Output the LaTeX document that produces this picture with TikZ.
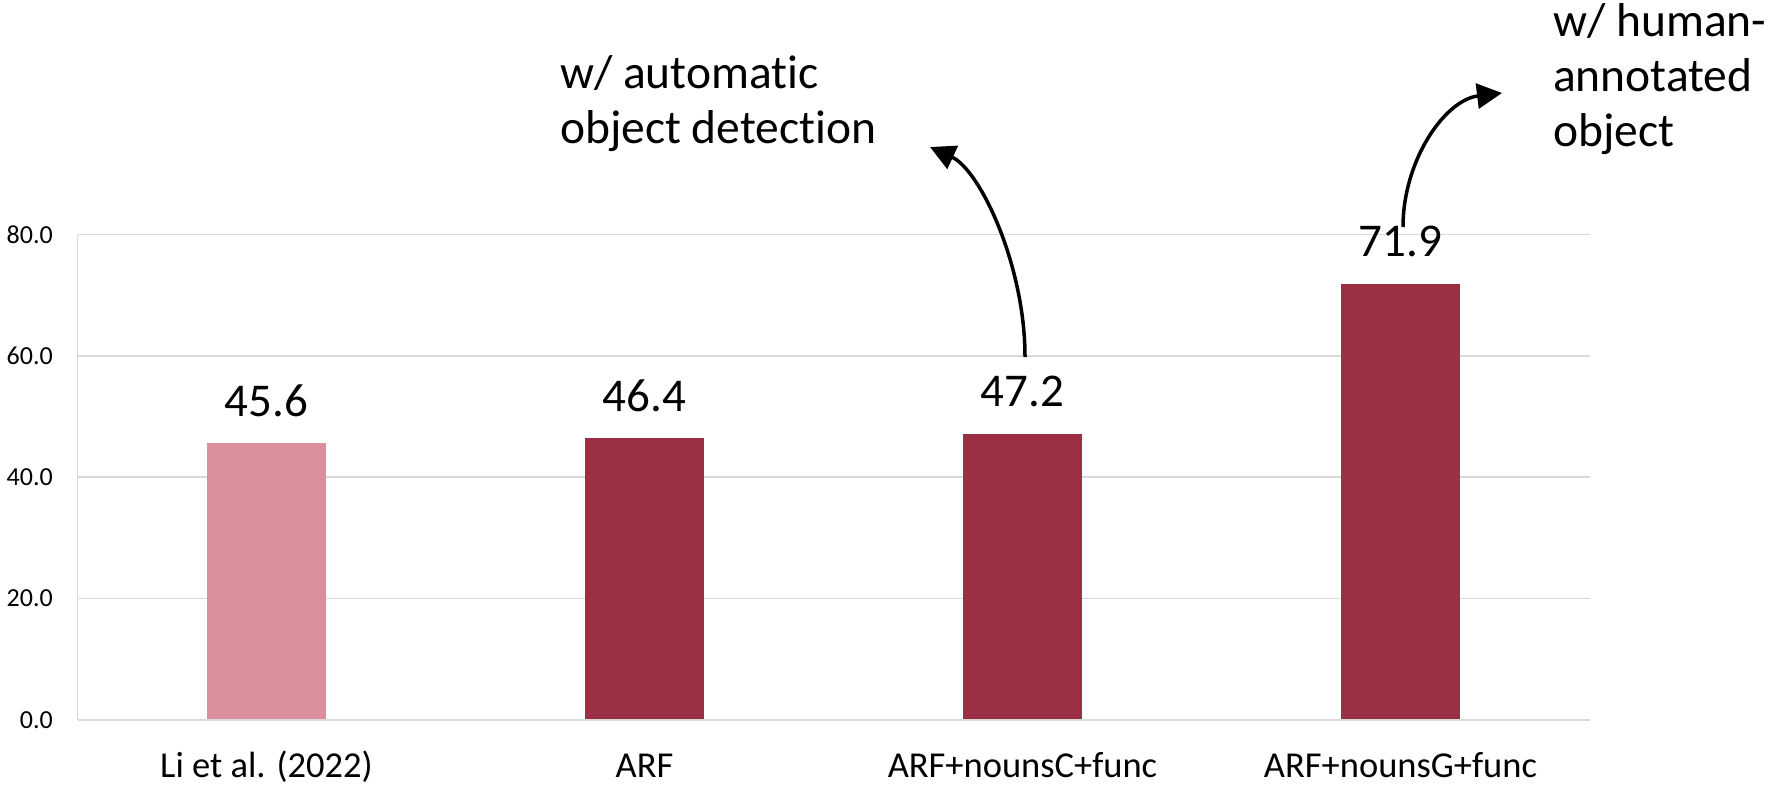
\documentclass[tikz,border=0pt]{standalone}
\usepackage{fontspec}
\setmainfont{Carlito}[Ligatures=NoCommon]
\usetikzlibrary{arrows.meta}
\definecolor{barlight}{HTML}{DB8F9C}
\definecolor{bardark}{HTML}{9B2F44}
\definecolor{gridgray}{HTML}{D9D9D9}
\begin{document}
\begin{tikzpicture}[x=1pt,y=-1pt,
  grid/.style={gridgray, line width=1.6pt},
  ticklabel/.style={anchor=east, inner sep=0pt, font=\fontsize{26}{31}\selectfont},
  vallabel/.style={anchor=base, inner sep=0pt, font=\fontsize{47}{56}\selectfont},
  catlabel/.style={anchor=base, inner sep=0pt, font=\fontsize{36.5}{44}\selectfont},
  note/.style={anchor=base west, inner sep=0pt, font=\fontsize{47.5}{55}\selectfont},
  callout/.style={line width=3.5pt, -{Triangle[length=25pt,width=25pt]}}
]
\useasboundingbox (0,0) rectangle (1768,784);

% horizontal grid and tick labels
\foreach \k/\val in {0/0.0,1/20.0,2/40.0,3/60.0,4/80.0}{
  \pgfmathsetmacro{\yy}{720-\k*121.375}
  \draw[grid] (77.5,\yy) -- (1590,\yy);
  \node[ticklabel] (tick\k) at (53,\yy) {\val};
}
% value axis line
\draw[grid] (77.5,234.5) -- (77.5,720);

% bars: centre / top / colour / value / category
\foreach \i/\cx/\top/\col/\val/\cat in {
  1/266.5/443.3/barlight/45.6/Li et al. (2022),
  2/644.5/438.4/bardark/46.4/ARF,
  3/1022.5/433.5/bardark/47.2/ARF+nounsC+func,
  4/1400.5/283.6/bardark/71.9/ARF+nounsG+func}{
  \fill[\col] (\cx-59.3,\top) rectangle (\cx+59.3,719.2);
  \node[vallabel] (val\i) at (\cx,\top-27) {\val};
  \node[catlabel] (cat\i) at (\cx,777) {\cat};
}

% call-out texts
\node[note] (note1) at (560,88)
  {\begin{tabular}[t]{@{}l@{}}w/ automatic\\object detection\end{tabular}};
\node[note] (note2) at (1553,36.5)
  {\begin{tabular}[t]{@{}l@{}}w/ human-\\annotated\\object\end{tabular}};

% call-out arrows
\coordinate (s1) at (1025,357);
\coordinate (e1) at (930,147);
\draw[callout] (s1) .. controls (1025,265) and (980,170) .. (e1);
\coordinate (s2) at (1403,227);
\coordinate (e2) at (1502,93);
\draw[callout] (s2) .. controls (1403,160) and (1445,100) .. (e2);
\end{tikzpicture}
\end{document}
